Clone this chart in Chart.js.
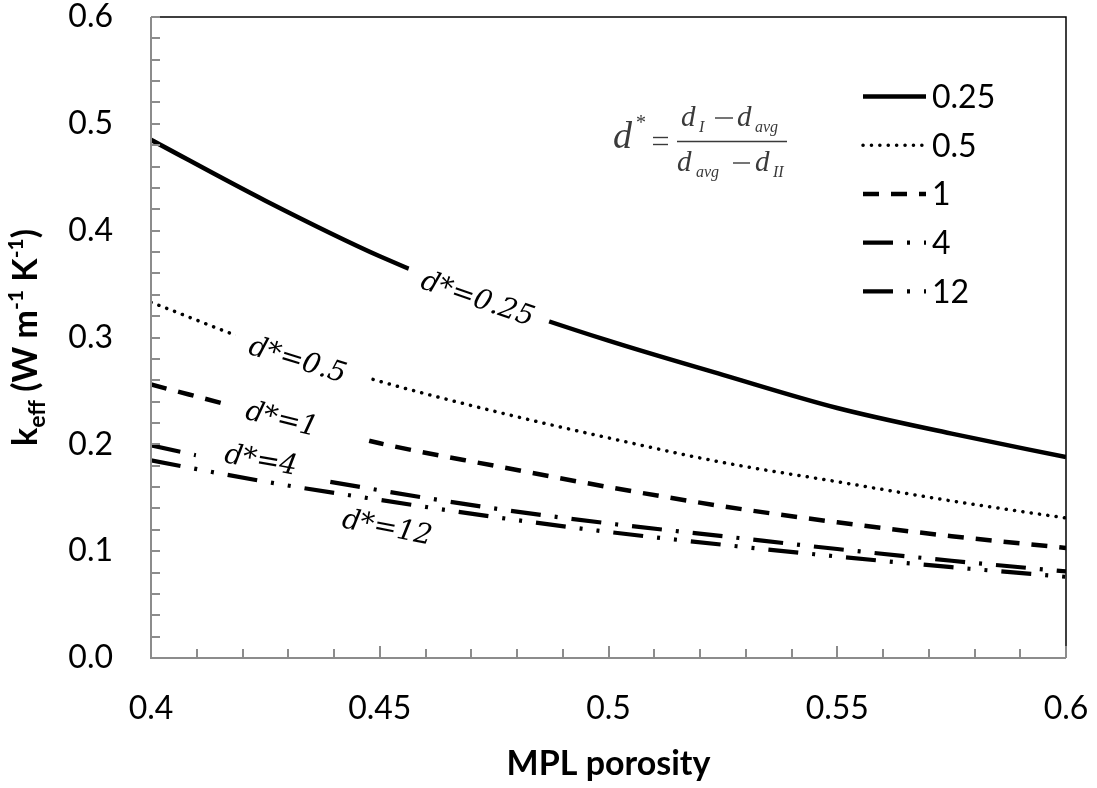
<!DOCTYPE html>
<html lang="en">
<head>
<meta charset="UTF-8">
<title>keff vs MPL porosity</title>
<script src="https://cdn.jsdelivr.net/npm/chart.js"></script>
<style>
    html, body { margin: 0; padding: 0; background: #fff; }
</style>
</head>
<body>
<canvas id="chartCanvas" width="1097" height="788"></canvas>

<script>
    // values
    const porosity = [0.4, 0.425, 0.45, 0.475, 0.5, 0.525, 0.55, 0.575, 0.6];
    const seriesNames = ["0.25", "0.5", "1", "4", "12"];
    const k025 = [0.485, 0.428, 0.376, 0.333, 0.297, 0.265, 0.234, 0.210, 0.188];
    const k05  = [0.333, 0.292, 0.259, 0.231, 0.206, 0.183, 0.165, 0.147, 0.131];
    const k1   = [0.256, 0.228, 0.201, 0.180, 0.160, 0.142, 0.127, 0.114, 0.103];
    const k4   = [0.199, 0.176, 0.157, 0.140, 0.126, 0.114, 0.102, 0.091, 0.081];
    const k12  = [0.185, 0.165, 0.148, 0.132, 0.118, 0.106, 0.095, 0.085, 0.076];
    const xTickLabels = ["0.4", "0.45", "0.5", "0.55", "0.6"];
    const yTickLabels = ["0.0", "0.1", "0.2", "0.3", "0.4", "0.5", "0.6"];

    // labels written along the curves
    const curveLabels = [
        { text: "d*=0.25", x: 0.4713, y: 0.335, angle: 19, boxW: 150, boxH: 40, dx: 0 },
        { text: "d*=0.5",  x: 0.4326, y: 0.277, angle: 17, boxW: 140, boxH: 36, dx: -3 },
        { text: "d*=1",    x: 0.4317, y: 0.219, angle: 14, boxW: 150, boxH: 34, dx: -15 },
        { text: "d*=4",    x: 0.4240, y: 0.184, angle: 10, boxW: 130, boxH: 22, dx: 0 },
        { text: "d*=12",   x: 0.4516, y: 0.121, angle: 11, boxW: 0,   boxH: 0,  dx: 0 }
    ];

    const styles = [
        { width: 4.5, dash: [], cap: "butt" },
        { width: 3.5, dash: [0.1, 8.3], cap: "round" },
        { width: 4.5, dash: [16, 12], cap: "butt" },
        { width: 4.2, dash: [30, 14, 3, 14], cap: "butt" },
        { width: 4.2, dash: [30, 14, 3, 14, 3, 14], cap: "butt" }
    ];
    const seriesValues = [k025, k05, k1, k4, k12];

    const datasets = seriesValues.map((vals, i) => ({
        label: seriesNames[i],
        data: porosity.map((p, j) => ({ x: p, y: vals[j] })),
        borderColor: "#000",
        borderWidth: styles[i].width,
        borderDash: styles[i].dash,
        borderCapStyle: styles[i].cap,
        pointRadius: 0,
        fill: false,
        cubicInterpolationMode: "monotone"
    }));

    const FONT = "Lato";

    function drawParts(ctx, parts, x, y) {
        // parts: [text, size, dy, bold]
        let total = 0;
        parts.forEach(p => {
            ctx.font = (p[3] ? "bold " : "") + p[1] + "px " + FONT;
            total += ctx.measureText(p[0]).width;
        });
        let cx = x - total / 2;
        parts.forEach(p => {
            ctx.font = (p[3] ? "bold " : "") + p[1] + "px " + FONT;
            ctx.fillText(p[0], cx, y + p[2]);
            cx += ctx.measureText(p[0]).width;
        });
    }

    function hline(ctx, x1, x2, y) {
        ctx.beginPath(); ctx.moveTo(x1, y); ctx.lineTo(x2, y); ctx.stroke();
    }

    const decor = {
        id: "decor",
        afterDatasetsDraw(chart) {
            const ctx = chart.ctx;
            const xs = chart.scales.x, ys = chart.scales.y;
            curveLabels.forEach(l => {
                const px = xs.getPixelForValue(l.x), py = ys.getPixelForValue(l.y);
                ctx.save();
                ctx.translate(px, py);
                ctx.rotate(l.angle * Math.PI / 180);
                if (l.boxW) {
                    ctx.fillStyle = "#fff";
                    ctx.fillRect(-l.boxW / 2, -l.boxH / 2, l.boxW, l.boxH);
                }
                ctx.fillStyle = "#000";
                ctx.font = "italic 28px 'DejaVu Serif'";
                ctx.textAlign = "center";
                ctx.textBaseline = "middle";
                ctx.fillText(l.text, l.dx, 0);
                ctx.restore();
            });
        },
        afterDraw(chart) {
            const ctx = chart.ctx;
            const a = chart.chartArea;
            const xs = chart.scales.x, ys = chart.scales.y;
            ctx.save();

            // frame: black top and right, grey left and bottom axes
            ctx.strokeStyle = "#000";
            ctx.lineWidth = 1.5;
            ctx.beginPath();
            ctx.moveTo(a.left, a.top); ctx.lineTo(a.right, a.top); ctx.lineTo(a.right, a.bottom);
            ctx.stroke();

            ctx.strokeStyle = "#8c8c8c";
            ctx.lineWidth = 2;
            ctx.beginPath();
            ctx.moveTo(a.left, a.top); ctx.lineTo(a.left, a.bottom); ctx.lineTo(a.right, a.bottom);
            ctx.stroke();

            // inward ticks
            for (let v = 0; v <= 0.6001; v += 0.02) {
                const py = Math.round(ys.getPixelForValue(v));
                ctx.beginPath(); ctx.moveTo(a.left, py); ctx.lineTo(a.left + 9, py); ctx.stroke();
            }
            for (let i = 0; i <= 20; i++) {
                const px = Math.round(xs.getPixelForValue(0.4 + i * 0.01));
                const len = i % 5 === 0 ? 12 : 9;
                ctx.beginPath(); ctx.moveTo(px, a.bottom); ctx.lineTo(px, a.bottom - len); ctx.stroke();
            }

            // legend
            ctx.fillStyle = "#000";
            chart.data.datasets.forEach((ds, i) => {
                const y = 96.5 + i * 48.7;
                ctx.save();
                ctx.strokeStyle = "#000";
                ctx.lineWidth = ds.borderWidth;
                ctx.setLineDash(ds.borderDash);
                ctx.lineCap = ds.borderCapStyle;
                ctx.beginPath(); ctx.moveTo(863, y); ctx.lineTo(926, y); ctx.stroke();
                ctx.restore();
                ctx.font = "32px " + FONT;
                ctx.textAlign = "left";
                ctx.textBaseline = "alphabetic";
                ctx.fillText(ds.label, 932, y + 11.5);
            });

            // equation d* = (dI - davg) / (davg - dII)
            ctx.fillStyle = "#3a3a3a";
            ctx.strokeStyle = "#3a3a3a";
            ctx.textAlign = "left";
            ctx.textBaseline = "alphabetic";
            const it = s => "italic " + s + "px 'Liberation Serif'";
            const rg = s => s + "px 'Liberation Serif'";
            ctx.lineWidth = 1.4;
            ctx.font = it(38); ctx.fillText("d", 613, 148);
            ctx.font = rg(20); ctx.fillText("*", 636, 129);
            hline(ctx, 653, 668, 137.5); hline(ctx, 653, 668, 144.5);
            // numerator
            ctx.font = it(29); ctx.fillText("d", 681, 126);
            ctx.font = it(16); ctx.fillText("I", 699, 132);
            hline(ctx, 715, 733, 118);
            ctx.font = it(29); ctx.fillText("d", 737, 126);
            ctx.font = it(16); ctx.fillText("avg", 755, 132);
            // fraction bar
            ctx.lineWidth = 1.3;
            hline(ctx, 677, 787, 141.5);
            // denominator
            ctx.lineWidth = 1.4;
            ctx.font = it(29); ctx.fillText("d", 677, 171);
            ctx.font = it(16); ctx.fillText("avg", 696, 177);
            hline(ctx, 733, 750, 163);
            ctx.font = it(29); ctx.fillText("d", 755, 171);
            ctx.font = it(16); ctx.fillText("II", 773, 177);

            // axis titles
            ctx.fillStyle = "#000";
            ctx.textBaseline = "alphabetic";
            ctx.textAlign = "left";
            drawParts(ctx, [["MPL porosity", 34, 0, true]], (a.left + a.right) / 2, 775);

            ctx.translate(37, (a.top + a.bottom) / 2);
            ctx.rotate(-Math.PI / 2);
            drawParts(ctx, [
                ["k", 34, 0, true], ["eff", 23, 8, true], [" (W m", 34, 0, true],
                ["-1", 21, -14, true], [" K", 34, 0, true], ["-1", 21, -14, true], [")", 34, 0, true]
            ], 0, 0);
            ctx.restore();
        }
    };

    const ctx = document.getElementById("chartCanvas").getContext("2d");
    new Chart(ctx, {
        type: "line",
        data: { datasets: datasets },
        plugins: [decor],
        options: {
            responsive: false,
            animation: false,
            layout: { padding: { left: 0, right: 31, top: 17, bottom: 0 } },
            plugins: { legend: { display: false }, tooltip: { enabled: false } },
            scales: {
                x: {
                    type: "linear",
                    min: 0.4,
                    max: 0.6,
                    afterBuildTicks: s => { s.ticks = xTickLabels.map(t => ({ value: parseFloat(t) })); },
                    afterFit: s => { s.height = 130; s.paddingLeft = 0; s.paddingRight = 0; },
                    ticks: {
                        autoSkip: false, maxRotation: 0, padding: 35, color: "#000",
                        font: { family: FONT, size: 32, lineHeight: 1 },
                        callback: (v, i) => xTickLabels[i]
                    },
                    grid: { display: false, drawTicks: false, tickLength: 0 },
                    border: { display: false }
                },
                y: {
                    min: 0,
                    max: 0.6,
                    afterBuildTicks: s => { s.ticks = yTickLabels.map(t => ({ value: parseFloat(t) })); },
                    afterFit: s => { s.width = 151; s.paddingTop = 0; s.paddingBottom = 0; },
                    ticks: {
                        padding: 38, color: "#000",
                        font: { family: FONT, size: 32, lineHeight: 1 },
                        callback: (v, i) => yTickLabels[i]
                    },
                    grid: { display: false, drawTicks: false, tickLength: 0 },
                    border: { display: false }
                }
            }
        }
    });
</script>
</body>
</html>
